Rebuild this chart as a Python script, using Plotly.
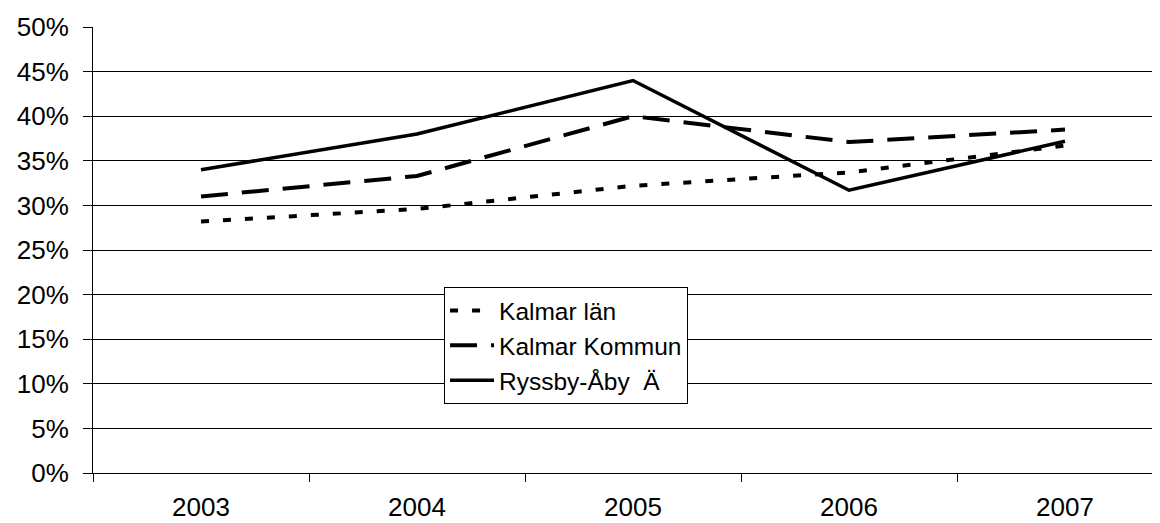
import plotly.graph_objects as go

years = ["2003", "2004", "2005", "2006", "2007"]
kalmar_lan = [0.282, 0.296, 0.322, 0.337, 0.367]
kalmar_kommun = [0.310, 0.333, 0.400, 0.371, 0.385]
ryssby_aby = [0.340, 0.380, 0.440, 0.317, 0.372]
y_ticks = [0, 0.05, 0.10, 0.15, 0.20, 0.25, 0.30, 0.35, 0.40, 0.45, 0.50]

FONT = "Liberation Sans, Arial, sans-serif"

fig = go.Figure()
fig.add_trace(go.Scatter(x=years, y=kalmar_lan, mode="lines", name="Kalmar län",
                         line=dict(color="black", width=4, dash="8px,14px")))
fig.add_trace(go.Scatter(x=years, y=kalmar_kommun, mode="lines", name="Kalmar Kommun",
                         line=dict(color="black", width=4, dash="27px,14px")))
fig.add_trace(go.Scatter(x=years, y=ryssby_aby, mode="lines", name="Ryssby-Åby  Ä",
                         line=dict(color="black", width=3.5)))

fig.update_layout(
    width=1152, height=515,
    margin=dict(l=85, r=0, t=19, b=50, pad=0, autoexpand=False),
    paper_bgcolor="white", plot_bgcolor="white",
    font=dict(family=FONT, color="black", size=26),
    showlegend=True,
    legend=dict(x=0.329, y=0.417, xanchor="left", yanchor="top",
                bgcolor="white", bordercolor="black", borderwidth=1,
                font=dict(family=FONT, size=24.5, color="black"),
                itemwidth=44, tracegroupgap=0),
    xaxis=dict(type="category", categoryorder="array", categoryarray=years,
               range=[-0.5, -0.5 + 1067 / 216], automargin=False,
               showline=True, linecolor="black", linewidth=1,
               ticks="outside", tickson="boundaries", ticklen=8, tickcolor="black",
               showgrid=False, zeroline=False,
               tickfont=dict(family=FONT, size=26, color="black"),
               ticklabelstandoff=11),
    yaxis=dict(range=[0, 0.5], tickvals=y_ticks, tickformat=".0%", automargin=False,
               showline=True, linecolor="black", linewidth=1,
               ticks="outside", ticklen=9, tickcolor="black",
               showgrid=True, gridcolor="black", gridwidth=1,
               zeroline=False,
               tickfont=dict(family=FONT, size=26, color="black"),
               ticklabelstandoff=9),
)

fig.write_html("out.html")
